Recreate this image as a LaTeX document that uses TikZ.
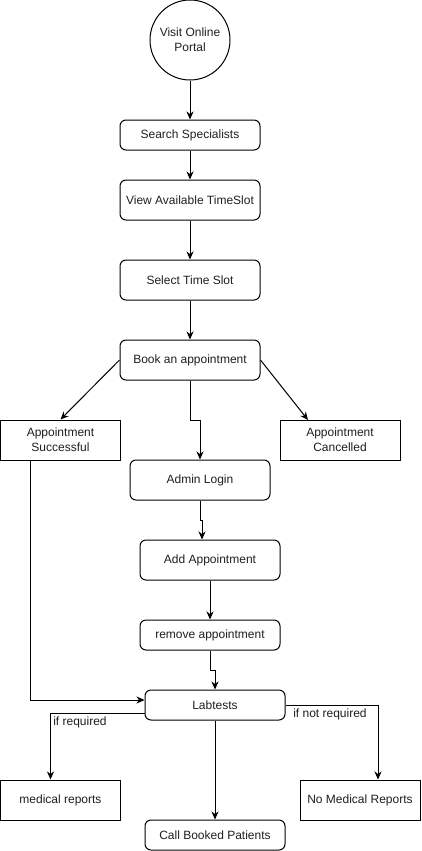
\documentclass[tikz,border=0pt]{standalone}
\usepackage{fontspec}
\setmainfont{Liberation Sans}
\usetikzlibrary{arrows.meta}
\begin{document}
\begin{tikzpicture}[x=1pt,y=-1pt,
  every node/.style={font=\fontsize{12}{15}\selectfont, inner sep=0pt, align=center, text=black!88},
  rbox/.style={draw, rounded corners=6pt, line width=1pt},
  sbox/.style={draw, line width=1pt},
  conn/.style={draw, line width=1pt, -{Stealth[length=8pt,width=7pt,inset=2.5pt]}},
  lbl/.style={font=\fontsize{12}{15}\selectfont}]
\useasboundingbox (0,0) rectangle (421,851);
\node[draw, circle, minimum size=80pt, line width=1pt] (visit) at (190,40) {Visit Online\\Portal};
\node[rbox, minimum width=140pt, minimum height=30pt] (search) at (190,135) {Search Specialists};
\node[rbox, minimum width=140pt, minimum height=40pt] (view) at (190,200) {View Available TimeSlot};
\node[rbox, minimum width=140pt, minimum height=40pt] (select) at (190,280) {Select Time Slot};
\node[rbox, minimum width=140pt, minimum height=40pt] (book) at (190,360) {Book an appointment};
\node[sbox, minimum width=120pt, minimum height=40pt] (succ) at (60.5,440) {Appointment\\Successful};
\node[sbox, minimum width=120pt, minimum height=40pt] (canc) at (340,440) {Appointment\\Cancelled};
\node[rbox, minimum width=140pt, minimum height=40pt] (admin) at (200,480) {Admin Login};
\node[rbox, minimum width=140pt, minimum height=40pt] (add) at (210,560) {Add Appointment};
\node[rbox, minimum width=140pt, minimum height=30pt] (remove) at (210,635) {remove appointment};
\node[rbox, minimum width=140pt, minimum height=30pt] (lab) at (215,705) {Labtests};
\node[sbox, minimum width=120pt, minimum height=40pt] (med) at (60.5,800) {medical reports};
\node[sbox, minimum width=120pt, minimum height=40pt] (nomed) at (360,800) {No Medical Reports};
\node[rbox, minimum width=140pt, minimum height=30pt] (call) at (215,835) {Call Booked Patients};
\coordinate (cancin) at (308,420);
\draw[conn] (visit) -- (search);
\draw[conn] (search) -- (view);
\draw[conn] (view) -- (select);
\draw[conn] (select) -- (book);
\draw[conn] (book.west) -- (succ.north);
\draw[conn] (book.east) -- (cancin);
\draw[conn] (book.south) -- ++(0,40) -| (admin.north);
\draw[conn] (admin.south) -- ++(0,20) -| ([xshift=-8pt]add.north);
\draw[conn] (add) -- (remove);
\draw[conn] (remove.south) -- ++(0,20) -| (lab.north);
\draw[conn] ([xshift=-30pt]succ.south) |- ([yshift=5pt]lab.west);
\draw[conn] ([yshift=-8pt]lab.west) -| ([xshift=-10pt]med.north);
\draw[conn] (lab.east) -| ([xshift=18pt]nomed.north);
\draw[conn] (lab) -- (call);
\node[lbl] (lreq) at (80,722) {if required};
\node[lbl] (lnreq) at (330,714) {if not required};
\end{tikzpicture}
\end{document}
